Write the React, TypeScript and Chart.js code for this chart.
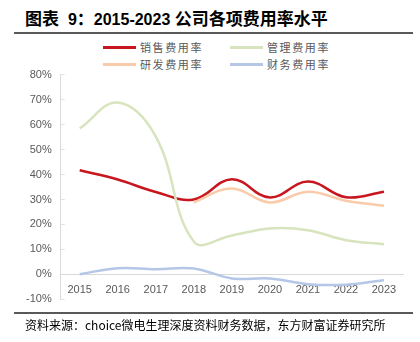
import React, { useEffect, useRef } from "react";
import { Chart, registerables } from "chart.js";

Chart.register(...registerables);

const years = ["2015", "2016", "2017", "2018", "2019", "2020", "2021", "2022", "2023"];
const salesRate = [41.7, 38.0, 33.0, 30.0, 38.1, 30.8, 37.2, 30.9, 33.1];
const adminRate = [58.4, 68.8, 55.2, 13.2, 15.6, 18.4, 17.7, 13.7, 12.1];
const rdRate = [null, null, null, 28.9, 34.4, 28.8, 33.1, 29.5, 27.5];
const finRate = [0.1, 2.5, 2.1, 2.4, -1.6, -1.6, -3.9, -4.1, -2.3];
const yTicks = [-10, 0, 10, 20, 30, 40, 50, 60, 70, 80];

const seriesNames = ["销售费用率", "管理费用率", "研发费用率", "财务费用率"];
const seriesColors = ["#C8161E", "#D7E4BD", "#F9CBAA", "#B4C7E7"];

const TICK_FONT = { family: "'Liberation Sans', Arial, sans-serif", size: 11 };

export default function App() {
  const ref = useRef<HTMLCanvasElement | null>(null);

  useEffect(() => {
    if (!ref.current) return;
    const mk = (i: number, data: (number | null)[]) => ({
      label: seriesNames[i],
      data,
      borderColor: seriesColors[i],
      backgroundColor: seriesColors[i],
      borderWidth: 2.5,
      pointRadius: 0,
      tension: 0.4,
      fill: false,
      spanGaps: false,
    });
    const chart = new Chart(ref.current, {
      type: "line",
      data: {
        labels: years,
        datasets: [mk(3, finRate), mk(2, rdRate), mk(1, adminRate), mk(0, salesRate)],
      },
      options: {
        animation: false,
        responsive: false,
        maintainAspectRatio: false,
        layout: { padding: { left: -1, right: 11, top: 4, bottom: 4 } },
        plugins: { legend: { display: false }, tooltip: { enabled: false } },
        scales: {
          x: {
            position: { y: 0 } as any,
            offset: true,
            grid: { display: false, drawTicks: false },
            border: { display: true, color: "#D9D9D9", width: 1 },
            ticks: { color: "#595959", font: TICK_FONT, padding: 9, maxRotation: 0 },
          },
          y: {
            min: -10,
            max: 80,
            afterBuildTicks: (axis: any) => {
              axis.ticks = yTicks.map((v) => ({ value: v }));
            },
            grid: {
              display: true,
              drawOnChartArea: false,
              drawTicks: true,
              tickLength: -4,
              color: "#E3E3DC",
            },
            border: { display: true, color: "#D9D9D9", width: 1 },
            ticks: {
              color: "#595959",
              font: TICK_FONT,
              padding: 13,
              callback: (v: any) => `${v}%`,
            },
          },
        },
      },
    });
    return () => chart.destroy();
  }, []);

  const legendItem = (i: number, left: number, top: number) => (
    <div
      key={i}
      style={{
        position: "absolute",
        left,
        top,
        display: "flex",
        alignItems: "center",
        height: 14,
      }}
    >
      <div style={{ width: 33, height: 3, background: seriesColors[i] }} />
      <span
        style={{
          marginLeft: 4,
          fontSize: 11,
          letterSpacing: 1.6,
          color: "#595959",
          fontFamily: "'Noto Sans CJK SC', sans-serif",
          lineHeight: "14px",
        }}
      >
        {seriesNames[i]}
      </span>
    </div>
  );

  const latin = { fontFamily: "'Liberation Sans', Arial, sans-serif", fontSize: 16 };

  return (
    <div
      style={{
        position: "fixed",
        left: 0,
        top: 0,
        width: 420,
        height: 342,
        background: "#fff",
        overflow: "hidden",
      }}
    >
      <div
        style={{
          position: "absolute",
          left: 25,
          top: 6,
          fontSize: 17,
          fontWeight: 700,
          color: "#000",
          fontFamily: "'Noto Sans CJK SC', sans-serif",
          lineHeight: "24px",
          whiteSpace: "pre",
        }}
      >
        <span>图表</span>
        <span style={latin}>{"  9"}</span>
        <span>：</span>
        <span style={latin}>{"2015-2023 "}</span>
        <span>公司各项费用率水平</span>
      </div>
      <div style={{ position: "absolute", left: 14, top: 32, width: 399, height: 2, background: "#595959" }} />
      {legendItem(0, 103, 40)}
      {legendItem(1, 230, 40)}
      {legendItem(2, 103, 57)}
      {legendItem(3, 230, 57)}
      <canvas
        ref={ref}
        width={400}
        height={264}
        style={{ position: "absolute", left: 14, top: 55, width: 400, height: 264 }}
      />
      <div style={{ position: "absolute", left: 14, top: 312, width: 399, height: 2, background: "#595959" }} />
      <div
        style={{
          position: "absolute",
          left: 25,
          top: 317,
          fontSize: 12,
          color: "#000",
          fontFamily: "'Noto Sans CJK SC', sans-serif",
          lineHeight: "16px",
          whiteSpace: "nowrap",
        }}
      >
        资料来源：choice微电生理深度资料财务数据，东方财富证券研究所
      </div>
    </div>
  );
}
